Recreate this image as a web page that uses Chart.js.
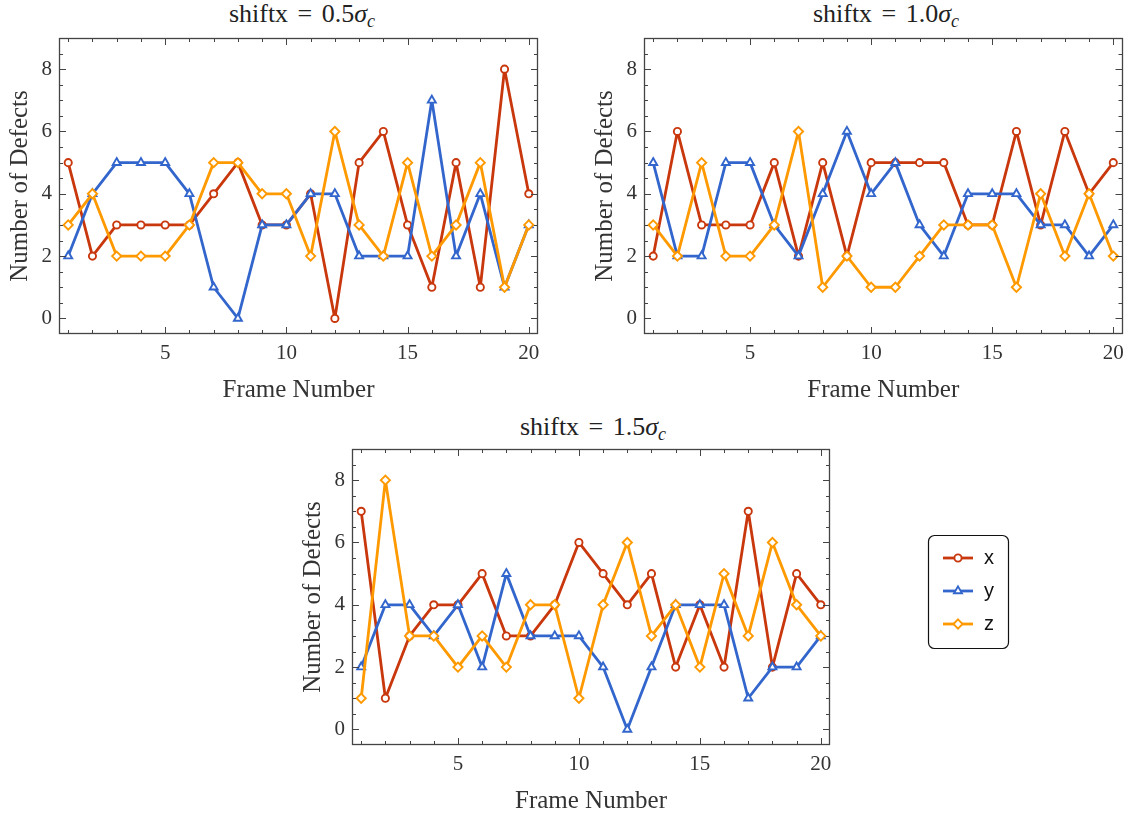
<!DOCTYPE html>
<html>
<head>
<meta charset="utf-8">
<script src="https://cdn.jsdelivr.net/npm/chart.js@4.4.1/dist/chart.umd.min.js"></script>
<style>
  html, body { margin: 0; padding: 0; background: #fff; }
  body { width: 1129px; height: 819px; position: relative; overflow: hidden; }
  canvas { position: absolute; }
  .ttl {
    position: absolute; transform: translateX(-50%);
    font-family: 'Liberation Serif', serif; font-size: 26px; line-height: 26px;
    color: #222; white-space: nowrap; word-spacing: 3px;
  }
  .ttl sub { font-size: 18px; vertical-align: -5px; line-height: 0; }
</style>
</head>
<body>
<div class="ttl" style="left:302px; top:1px;">shiftx = 0.5<i>σ</i><sub><i>c</i></sub></div>
<div class="ttl" style="left:886px; top:1px;">shiftx = 1.0<i>σ</i><sub><i>c</i></sub></div>
<div class="ttl" style="left:593px; top:414px;">shiftx = 1.5<i>σ</i><sub><i>c</i></sub></div>
<canvas id="c1" width="560" height="410" style="left:0px; top:0px;"></canvas>
<canvas id="c2" width="544" height="410" style="left:585px; top:0px;"></canvas>
<canvas id="c3" width="836" height="409" style="left:293px; top:410px;"></canvas>
<script>
const frames = [1, 2, 3, 4, 5, 6, 7, 8, 9, 10, 11, 12, 13, 14, 15, 16, 17, 18, 19, 20];

// shiftx = 0.5 sigma_c
const x05 = [5, 2, 3, 3, 3, 3, 4, 5, 3, 3, 4, 0, 5, 6, 3, 1, 5, 1, 8, 4];
const y05 = [2, 4, 5, 5, 5, 4, 1, 0, 3, 3, 4, 4, 2, 2, 2, 7, 2, 4, 1, 3];
const z05 = [3, 4, 2, 2, 2, 3, 5, 5, 4, 4, 2, 6, 3, 2, 5, 2, 3, 5, 1, 3];

// shiftx = 1.0 sigma_c
const x10 = [2, 6, 3, 3, 3, 5, 2, 5, 2, 5, 5, 5, 5, 3, 3, 6, 3, 6, 4, 5];
const y10 = [5, 2, 2, 5, 5, 3, 2, 4, 6, 4, 5, 3, 2, 4, 4, 4, 3, 3, 2, 3];
const z10 = [3, 2, 5, 2, 2, 3, 6, 1, 2, 1, 1, 2, 3, 3, 3, 1, 4, 2, 4, 2];

// shiftx = 1.5 sigma_c
const x15 = [7, 1, 3, 4, 4, 5, 3, 3, 4, 6, 5, 4, 5, 2, 4, 2, 7, 2, 5, 4];
const y15 = [2, 4, 4, 3, 4, 2, 5, 3, 3, 3, 2, 0, 2, 4, 4, 4, 1, 2, 2, 3];
const z15 = [1, 8, 3, 3, 2, 3, 2, 4, 4, 1, 4, 6, 3, 4, 2, 5, 3, 6, 4, 3];

const seriesNames = ['x', 'y', 'z'];
const yTickLabels = [0, 2, 4, 6, 8];
const xTickLabels = [5, 10, 15, 20];
const yMinorTicks = [0, 0.5, 1, 1.5, 2, 2.5, 3, 3.5, 4, 4.5, 5, 5.5, 6, 6.5, 7, 7.5, 8, 8.5];
const xMinorTicks = frames;

const COLORS = ['#c9370d', '#3366cc', '#ff9900'];
const STYLES = ['circle', 'triangle', 'rectRot'];
const RADII = [3.6, 4.6, 4.6];
const TEXT = '#333';

Chart.defaults.font.family = "'Liberation Serif', 'Times New Roman', serif";

function toPoints(values) {
  return frames.map((f, i) => ({ x: f, y: values[i] }));
}

function makeDatasets(xs, ys, zs) {
  return [xs, ys, zs].map((vals, i) => ({
    label: seriesNames[i],
    data: toPoints(vals),
    borderColor: COLORS[i],
    backgroundColor: '#fff',
    borderWidth: 2.8,
    borderJoinStyle: 'round',
    borderCapStyle: 'round',
    pointStyle: STYLES[i],
    pointRadius: RADII[i],
    pointBorderWidth: 1.9,
    pointBackgroundColor: '#fff',
    pointBorderColor: COLORS[i],
    tension: 0,
    order: 2 - i,
  }));
}

const framePlugin = {
  id: 'frame',
  afterDatasetsDraw(chart) {
    const { ctx, chartArea: a, scales: { x, y } } = chart;
    ctx.save();
    ctx.strokeStyle = '#444';
    ctx.lineWidth = 1;
    ctx.beginPath();
    xMinorTicks.forEach(v => {
      const px = Math.round(x.getPixelForValue(v)) + 0.5;
      const len = xTickLabels.includes(v) ? 7 : 4;
      ctx.moveTo(px, a.bottom); ctx.lineTo(px, a.bottom - len);
      ctx.moveTo(px, a.top); ctx.lineTo(px, a.top + len);
    });
    yMinorTicks.forEach(v => {
      const py = Math.round(y.getPixelForValue(v)) + 0.5;
      const len = yTickLabels.includes(v) ? 7 : 4;
      ctx.moveTo(a.left, py); ctx.lineTo(a.left + len, py);
      ctx.moveTo(a.right, py); ctx.lineTo(a.right - len, py);
    });
    ctx.stroke();
    ctx.lineWidth = 1.3;
    ctx.strokeRect(Math.round(a.left) + 0.5, Math.round(a.top) + 0.5,
      Math.round(a.width) - 1, Math.round(a.height) - 1);
    ctx.restore();
  }
};

function drawMarker(ctx, style, r, cx, cy) {
  ctx.beginPath();
  if (style === 'circle') {
    ctx.arc(cx, cy, r, 0, Math.PI * 2);
  } else if (style === 'triangle') {
    ctx.moveTo(cx, cy - r);
    ctx.lineTo(cx + r * 0.866, cy + r * 0.5);
    ctx.lineTo(cx - r * 0.866, cy + r * 0.5);
    ctx.closePath();
  } else {
    ctx.moveTo(cx, cy - r);
    ctx.lineTo(cx + r, cy);
    ctx.lineTo(cx, cy + r);
    ctx.lineTo(cx - r, cy);
    ctx.closePath();
  }
  ctx.fill();
  ctx.stroke();
}

// legend box to the right of the third panel
const legendPlugin = {
  id: 'boxLegend',
  afterDraw(chart) {
    const ctx = chart.ctx;
    const bx = 635.5, by = 125.5, bw = 80, bh = 113;
    ctx.save();
    ctx.strokeStyle = '#111';
    ctx.lineWidth = 1.2;
    ctx.beginPath();
    ctx.roundRect(bx, by, bw, bh, 6);
    ctx.stroke();
    chart.data.datasets.forEach((ds, i) => {
      const ly = 148 + i * 33;
      ctx.strokeStyle = ds.borderColor;
      ctx.lineWidth = 2.8;
      ctx.beginPath();
      ctx.moveTo(650, ly); ctx.lineTo(680, ly);
      ctx.stroke();
      ctx.fillStyle = '#fff';
      ctx.lineWidth = 1.9;
      drawMarker(ctx, ds.pointStyle, ds.pointRadius, 665, ly);
      ctx.fillStyle = '#111';
      ctx.font = "20px 'Liberation Sans', Arial, sans-serif";
      ctx.textBaseline = 'middle';
      ctx.fillText(ds.label, 691, ly);
    });
    ctx.restore();
  }
};

function makeOptions(padding, xHeight, titlePad) {
  return {
    responsive: false,
    animation: false,
    layout: { padding: padding },
    plugins: { legend: { display: false }, tooltip: { enabled: false } },
    scales: {
      x: {
        type: 'linear',
        min: 0.62,
        max: 20.38,
        afterBuildTicks: s => { s.ticks = xTickLabels.map(v => ({ value: v })); },
        afterFit: s => { s.height = xHeight; s.paddingLeft = 0; s.paddingRight = 0; },
        grid: { display: false, drawTicks: false },
        border: { display: false },
        ticks: { font: { size: 21 }, color: TEXT, padding: 7, maxRotation: 0 },
        title: { display: true, text: 'Frame Number', font: { size: 25 }, color: TEXT, padding: { top: 0, bottom: titlePad } }
      },
      y: {
        type: 'linear',
        min: -0.5,
        max: 9,
        afterBuildTicks: s => { s.ticks = yTickLabels.map(v => ({ value: v })); },
        afterFit: s => { s.width = 59; s.paddingTop = 0; s.paddingBottom = 0; },
        grid: { display: false, drawTicks: false },
        border: { display: false },
        ticks: { font: { size: 21 }, color: TEXT, padding: 7 },
        title: { display: true, text: 'Number of Defects', font: { size: 25 }, color: TEXT, padding: { top: 5, bottom: 0 } }
      }
    }
  };
}

new Chart(document.getElementById('c1'), {
  type: 'line',
  data: { datasets: makeDatasets(x05, y05, z05) },
  options: makeOptions({ top: 38, right: 22, left: 0, bottom: 0 }, 76, 5),
  plugins: [framePlugin]
});

new Chart(document.getElementById('c2'), {
  type: 'line',
  data: { datasets: makeDatasets(x10, y10, z10) },
  options: makeOptions({ top: 38, right: 6, left: 0, bottom: 0 }, 76, 5),
  plugins: [framePlugin]
});

new Chart(document.getElementById('c3'), {
  type: 'line',
  data: { datasets: makeDatasets(x15, y15, z15) },
  options: makeOptions({ top: 39, right: 299, left: 0, bottom: 0 }, 74, 3),
  plugins: [framePlugin, legendPlugin]
});
</script>
</body>
</html>
